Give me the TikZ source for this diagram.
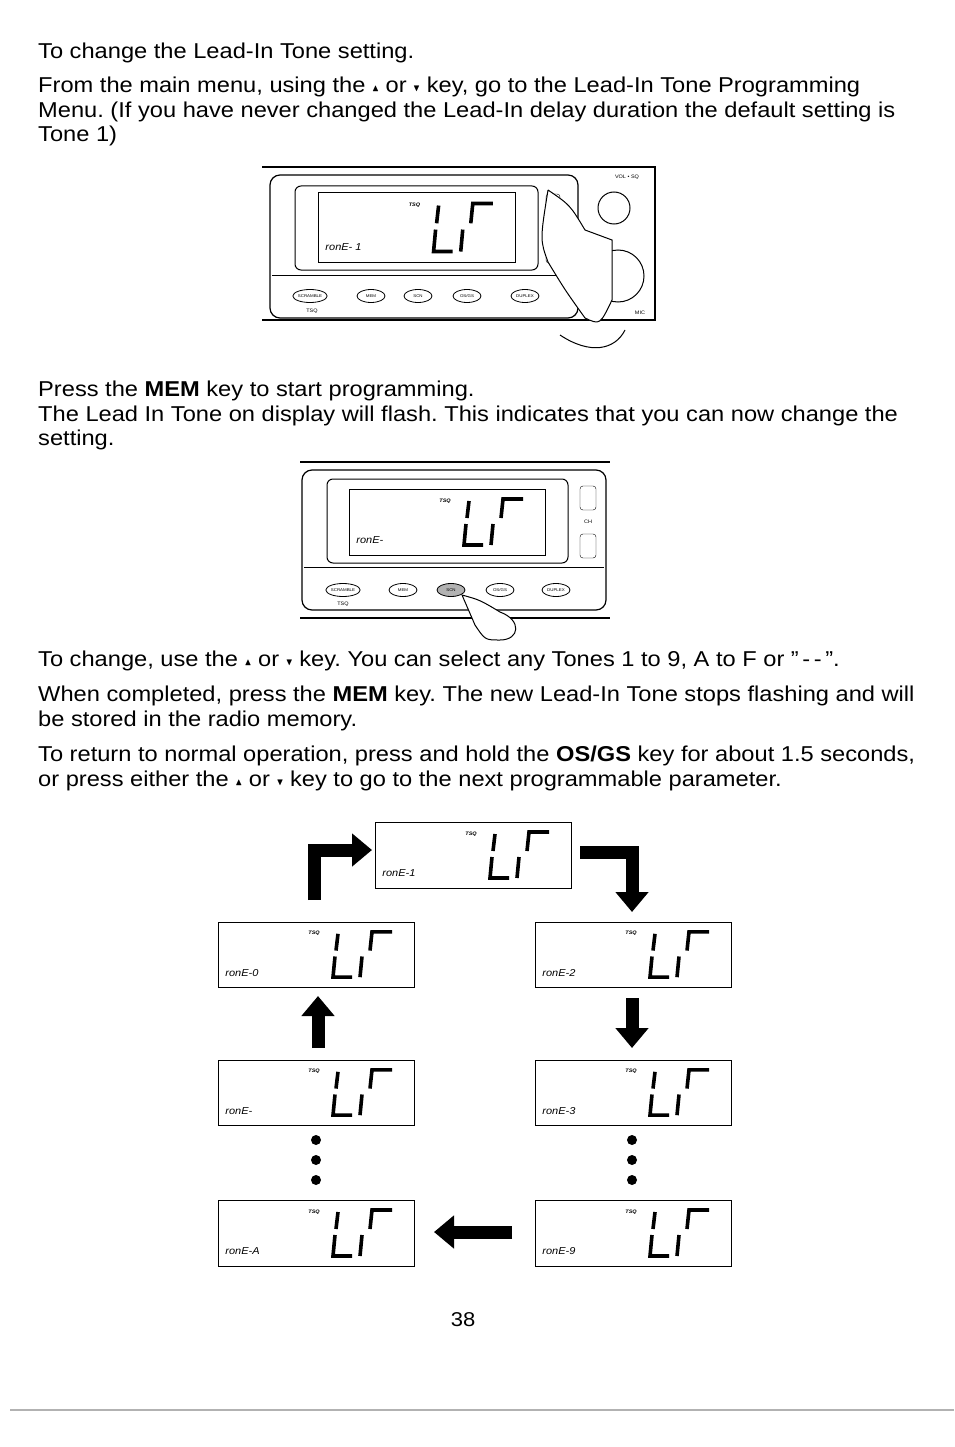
\documentclass[tikz,border=0pt]{standalone}
\usepackage{fontspec}
\setmainfont[FakeStretch=1.1]{Liberation Sans}
\usepackage{amssymb}
\usetikzlibrary{positioning}
\usetikzlibrary{arrows.meta}
\usetikzlibrary{calc}
\usetikzlibrary{shapes.geometric}
\frenchspacing

\tikzset{
 body/.style={font=\fontsize{21.5}{24.5}\selectfont,anchor=north west,align=left,inner sep=0pt},
 lcdbox/.style={draw,line width=1pt},
 seg/.style={line width=3.6pt},
 key/.style={draw,ellipse,minimum width=28pt,minimum height=13pt,inner sep=0pt,font=\fontsize{4}{4}\selectfont,line width=0.8pt},
 blk/.style={line width=13pt,-{Triangle[length=20pt,width=32pt]}},
 dot/.style={circle,fill,inner sep=0pt,minimum size=10pt}
}
\newcommand\upk{\raisebox{1pt}{\scalebox{0.45}{$\blacktriangle$}}}
\newcommand\dnk{\raisebox{1pt}{\scalebox{0.45}{$\blacktriangledown$}}}

% one LCD window: name, x, y (top left), tone digit, width, height
\newcommand\lcd[6]{%
 \draw[lcdbox] (#2,#3) rectangle ++(#5,#6);
 \node[font=\fontsize{5}{5}\selectfont\itshape\bfseries] (#1t) at ($(#2,#3)+(0.49*#5,0.18*#6)$) {TSQ};
 \begin{scope}[shift={(#2,#3)},xscale=#5/196,yscale=#6/66]
  \draw[seg] (120,12) -- (118,29);
  \draw[seg] (117,35) -- (115,56) -- (134,56);
  \draw[seg] (144,35) -- (142,56);
  \draw[seg] (152,29) -- (154,10) -- (174,10);
 \end{scope}
 \node[anchor=west,font=\fontsize{10}{10}\selectfont\itshape] (#1n) at ($(#2,#3)+(0.02*#5,0.78*#6)$) {ronE-#4};
}

\begin{document}
\begin{tikzpicture}[x=1pt,y=-1pt]
\useasboundingbox (0,0) rectangle (954,1447);
\fill[white] (0,0) rectangle (954,1447);

\node[body] (t1) at (38,43) {To change the Lead-In Tone setting.};
\node[body] (t2) at (38,77) {From the main menu, using the \upk{} or \dnk{} key, go to the Lead-In Tone Programming\\Menu. (If you have never changed the Lead-In delay duration the default setting is\\Tone 1)};

% first radio
\draw[line width=1.2pt] (262,167) -- (655,167) -- (655,320) -- (262,320);
\draw[line width=1.2pt,rounded corners=10pt] (270,175) rectangle (578,318);
\draw[line width=1pt,rounded corners=6pt] (295,186) rectangle (538,270);
\draw (272,275) -- (576,275);
\lcd{d0}{318}{193}{ 1}{197}{69}
\node[key] (k1) at (310,296) {SCRAMBLE};
\node[key] (k2) at (371,296) {MEM};
\node[key] (k3) at (418,296) {SCN};
\node[key] (k4) at (467,296) {OS/GS};
\node[key] (k5) at (525,296) {DUPLEX};
\node[font=\fontsize{5}{5}\selectfont] (tsq1) at (312,311) {TSQ};
\node[draw,rounded corners=3pt,minimum width=14pt,minimum height=22pt] (ch1u) at (553,205) {};
\node[draw,rounded corners=3pt,minimum width=14pt,minimum height=22pt] (ch1d) at (553,252) {};
\node[font=\fontsize{5}{5}\selectfont] (ch1) at (553,228) {CH};
\node[draw,circle,minimum size=32pt,line width=1pt] (vol) at (614,208) {};
\node[draw,circle,minimum size=52pt,line width=1pt] (mic) at (618,276) {};
\node[font=\fontsize{5}{5}\selectfont] (volt) at (627,177) {VOL \textbullet\ SQ};
\node[font=\fontsize{5}{5}\selectfont] (mict) at (640,313) {MIC};
\draw[line width=1pt,fill=white] (548,190) .. controls (570,205) .. (585,230) -- (612,240) -- (612,300) .. controls (600,325) .. (585,318) .. controls (565,290) .. (548,262) .. controls (540,240) .. (548,190);
\draw[line width=1pt] (560,335) .. controls (590,355) and (615,350) .. (625,330);

\node[body] (t3) at (38,381) {Press the \textbf{MEM} key to start programming.\\The Lead In Tone on display will flash. This indicates that you can now change the\\setting.};

% second radio
\draw[line width=1.2pt] (300,462) -- (610,462);
\draw[line width=1.2pt] (300,618) -- (610,618);
\draw[line width=1.2pt,rounded corners=10pt] (302,470) rectangle (606,610);
\draw[line width=1pt,rounded corners=6pt] (327,479) rectangle (568,563);
\draw (304,567) -- (604,567);
\lcd{d1}{349}{489}{}{196}{66}
\node[key] (m1) at (343,590) {SCRAMBLE};
\node[key] (m2) at (403,590) {MEM};
\node[key,fill=gray!60] (m3) at (451,590) {SCN};
\node[key] (m4) at (500,590) {OS/GS};
\node[key] (m5) at (556,590) {DUPLEX};
\node[font=\fontsize{5}{5}\selectfont] (tsq2) at (343,604) {TSQ};
\node[draw,rounded corners=3pt,minimum width=16pt,minimum height=24pt] (ch2u) at (588,498) {};
\node[draw,rounded corners=3pt,minimum width=16pt,minimum height=24pt] (ch2d) at (588,546) {};
\node[font=\fontsize{5}{5}\selectfont] (ch2) at (588,522) {CH};
\draw[line width=1pt,fill=white] (462,595) .. controls (480,600) .. (500,612) .. controls (522,620) and (520,640) .. (500,640) .. controls (485,640) .. (475,625) -- (462,595);

\node[body] (t4) at (38,651) {To change, use the \upk{} or \dnk{} key. You can select any Tones 1 to 9, A to F or "\,-\,-\,".};
\node[body] (t5) at (38,686) {When completed, press the \textbf{MEM} key. The new Lead-In Tone stops flashing and will\\be stored in the radio memory.};
\node[body] (t6) at (38,746) {To return to normal operation, press and hold the \textbf{OS/GS} key for about 1.5 seconds,\\or press either the \upk{} or \dnk{} key to go to the next programmable parameter.};

% cycle of displays
\lcd{c1}{375}{822}{1}{196}{66}
\lcd{c0}{218}{922}{0}{196}{65}
\lcd{c2}{535}{922}{2}{196}{65}
\lcd{cE}{218}{1060}{}{196}{65}
\lcd{c3}{535}{1060}{3}{196}{65}
\lcd{cA}{218}{1200}{A}{196}{66}
\lcd{c9}{535}{1200}{9}{196}{66}

\draw[blk] (314,900) -- (314,850) -- (372,850);
\draw[blk] (580,852) -- (632,852) -- (632,912);
\draw[blk] (632,998) -- (632,1048);
\draw[blk] (318,1048) -- (318,996);
\draw[blk] (512,1232) -- (434,1232);
\foreach \yy in {1140,1160,1180}{
 \node[dot] at (316,\yy) {};
 \node[dot] at (632,\yy) {};
}

\node[font=\fontsize{20}{22}\selectfont] (pg) at (463,1320) {38};
\draw[gray!60,line width=1.5pt] (10,1410) -- (954,1410);
\end{tikzpicture}
\end{document}
